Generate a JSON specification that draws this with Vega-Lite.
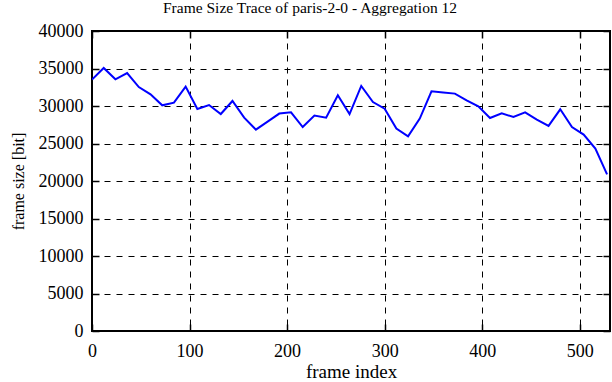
{
  "$schema": "https://vega.github.io/schema/vega-lite/v6.json",
  "width": 518,
  "height": 300,
  "autosize": {"type": "none"},
  "padding": {"left": 92, "top": 31, "right": 2, "bottom": 51},
  "background": "white",
  "title": {
    "text": "Frame Size Trace of paris-2-0 - Aggregation 12",
    "font": "Liberation Serif",
    "fontSize": 15.5,
    "fontWeight": "normal",
    "color": "black",
    "anchor": "middle",
    "dx": -41,
    "offset": 6
  },
  "config": {
    "view": {"stroke": "black", "strokeWidth": 2},
    "axis": {
      "labelFont": "Liberation Serif",
      "labelFontSize": 18,
      "labelColor": "black",
      "labelFlush": false,
      "labelOverlap": false,
      "titleFont": "Liberation Serif",
      "titleFontWeight": "normal",
      "titleColor": "black",
      "domain": false,
      "tickColor": "black",
      "tickWidth": 1.5,
      "tickSize": -7,
      "gridColor": "black",
      "gridDash": [6, 6],
      "gridWidth": 1,
      "gridOpacity": 1
    }
  },
  "data": {
    "values": [
      {"frame": 0, "size": 33520},
      {"frame": 12, "size": 35070},
      {"frame": 24, "size": 33560},
      {"frame": 36, "size": 34400},
      {"frame": 48, "size": 32530},
      {"frame": 60, "size": 31560},
      {"frame": 72, "size": 30090},
      {"frame": 84, "size": 30450},
      {"frame": 96, "size": 32590},
      {"frame": 108, "size": 29600},
      {"frame": 120, "size": 30130},
      {"frame": 132, "size": 28930},
      {"frame": 144, "size": 30670},
      {"frame": 156, "size": 28450},
      {"frame": 168, "size": 26850},
      {"frame": 180, "size": 27920},
      {"frame": 192, "size": 28990},
      {"frame": 204, "size": 29160},
      {"frame": 216, "size": 27200},
      {"frame": 228, "size": 28720},
      {"frame": 240, "size": 28450},
      {"frame": 252, "size": 31430},
      {"frame": 264, "size": 28920},
      {"frame": 276, "size": 32670},
      {"frame": 288, "size": 30530},
      {"frame": 300, "size": 29650},
      {"frame": 312, "size": 26990},
      {"frame": 324, "size": 25960},
      {"frame": 336, "size": 28320},
      {"frame": 348, "size": 31960},
      {"frame": 360, "size": 31790},
      {"frame": 372, "size": 31650},
      {"frame": 384, "size": 30760},
      {"frame": 396, "size": 29960},
      {"frame": 408, "size": 28400},
      {"frame": 420, "size": 29030},
      {"frame": 432, "size": 28530},
      {"frame": 444, "size": 29160},
      {"frame": 456, "size": 28190},
      {"frame": 468, "size": 27340},
      {"frame": 480, "size": 29560},
      {"frame": 492, "size": 27200},
      {"frame": 504, "size": 26190},
      {"frame": 516, "size": 24320},
      {"frame": 528, "size": 20890}
    ]
  },
  "layer": [
    {
      "mark": {"type": "line", "color": "#0000ff", "strokeWidth": 2, "clip": true},
      "encoding": {
        "x": {
          "field": "frame",
          "type": "quantitative",
          "scale": {"domain": [0, 531], "nice": false, "zero": false},
          "axis": {
            "title": "frame index",
            "titleFontSize": 19,
            "labelFont": "Liberation Serif",
            "labelFontSize": 18,
            "values": [0, 100, 200, 300, 400, 500],
            "grid": true,
            "labelPadding": 18,
            "titlePadding": 2,
            "format": "d"
          }
        },
        "y": {
          "field": "size",
          "type": "quantitative",
          "scale": {"domain": [0, 40000], "nice": false},
          "axis": {
            "title": "frame size [bit]",
            "titleFontSize": 16,
            "labelFont": "Liberation Serif",
            "labelFontSize": 18,
            "values": [0, 5000, 10000, 15000, 20000, 25000, 30000, 35000, 40000],
            "grid": true,
            "labelPadding": 16,
            "titlePadding": 12,
            "format": "d"
          }
        }
      }
    },
    {
      "mark": {"type": "line", "opacity": 0},
      "encoding": {
        "x": {
          "field": "frame",
          "type": "quantitative",
          "axis": {"orient": "top", "labels": false, "title": null, "grid": false, "values": [0, 100, 200, 300, 400, 500]}
        },
        "y": {
          "field": "size",
          "type": "quantitative",
          "axis": {"orient": "right", "labels": false, "title": null, "grid": false, "values": [0, 5000, 10000, 15000, 20000, 25000, 30000, 35000, 40000]}
        }
      }
    }
  ],
  "resolve": {"axis": {"x": "independent", "y": "independent"}}
}
